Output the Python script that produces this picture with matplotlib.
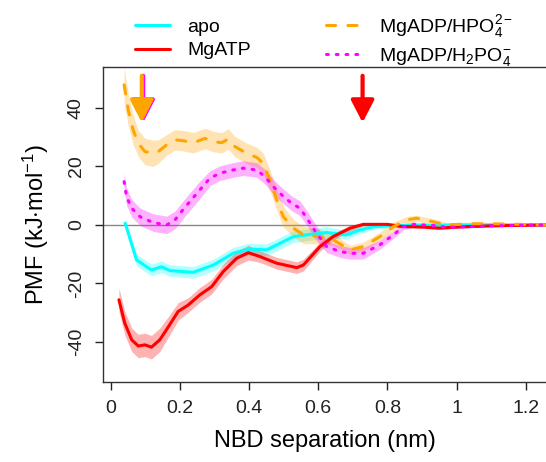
import matplotlib
matplotlib.use("Agg")
import matplotlib.pyplot as plt
import numpy as np

plt.rcParams['font.family'] = ['Liberation Sans', 'DejaVu Sans']
plt.rcParams['mathtext.fontset'] = 'custom'
plt.rcParams['mathtext.rm'] = 'Liberation Sans'
plt.rcParams['mathtext.it'] = 'Liberation Sans:italic'
plt.rcParams['mathtext.bf'] = 'Liberation Sans:bold'
plt.rcParams['axes.unicode_minus'] = False

# apo
apo_x = [0.042, 0.075, 0.118, 0.147, 0.171, 0.239, 0.297, 0.354, 0.398, 0.451, 0.489, 0.528,
         0.566, 0.624, 0.682, 0.72, 0.76, 0.82, 0.9, 1.0, 1.1, 1.26]
apo_y = [0.6, -12, -15.4, -14.3, -15.6, -16.2, -13.7, -9.7, -8.3, -8.5, -6.3, -4,
         -3.4, -2.6, -3.4, -1.7, -0.6, -0.2, -0.2, 0, 0, 0]
apo_e = [1.5, 2, 2, 2, 2, 2, 2, 2, 2, 2, 2, 2,
         2, 2, 1.5, 1.2, 1, 0.5, 0.4, 0.3, 0.3, 0.3]

# MgATP
atp_x = [0.024, 0.041, 0.061, 0.080, 0.099, 0.118, 0.142, 0.167, 0.195, 0.224, 0.258, 0.292,
         0.325, 0.364, 0.398, 0.431, 0.48, 0.538, 0.557, 0.605, 0.643, 0.692, 0.73, 0.8,
         0.84, 0.9, 0.95, 1.0, 1.1, 1.26]
atp_y = [-25.6, -33.6, -39.3, -41.4, -41, -41.8, -39.3, -34.8, -29.6, -27.4, -23.9, -21.1,
         -16, -11.4, -9.5, -10.8, -13.1, -14.6, -13.7, -7.4, -4, -1.1, 0.2, 0.2,
         -0.5, -0.7, -1.1, -0.7, -0.3, 0]
atp_e = [4, 4, 4, 4, 4, 4, 4, 3.5, 3, 2.5, 2.5, 2.5,
         2.5, 2.5, 2.5, 2, 2, 2, 2, 1.5, 1.2, 1, 0.5, 0.5,
         0.5, 0.5, 0.5, 0.4, 0.3, 0.3]

# MgADP/HPO4 2-
hpo_x = [0.039, 0.051, 0.065, 0.080, 0.099, 0.123, 0.138, 0.162, 0.186, 0.21, 0.239, 0.273,
         0.297, 0.321, 0.34, 0.359, 0.393, 0.422, 0.441, 0.46, 0.48, 0.499, 0.528, 0.557,
         0.605, 0.643, 0.692, 0.73, 0.778, 0.817, 0.855, 0.884, 0.932, 0.971, 1.05, 1.1, 1.26]
hpo_y = [47.9, 39.3, 32.5, 27.9, 25.1, 24.5, 25.1, 27.4, 29.1, 28.8, 28.1, 29.6,
         28.5, 28.1, 29.4, 26.8, 24.5, 23.1, 21.1, 15.4, 8.5, 2.8, -1.1, -3.4,
         -4, -5.1, -8.5, -7.4, -4, -0.6, 1.7, 2.3, 1.1, 0, 0.4, 0.4, 0]
hpo_e = [6, 5.5, 5, 4.5, 4.5, 4.5, 4, 3.5, 3.5, 3.5, 3.5, 3.5,
         3.5, 3.5, 3.5, 3.5, 3.5, 3.5, 3.5, 3.5, 3.5, 3.5, 3, 3,
         2.5, 2, 1.5, 1.5, 1.5, 1.5, 1.2, 1, 1, 0.8, 0.6, 0.5, 0.4]

# MgADP/H2PO4 -
h2p_x = [0.039, 0.046, 0.061, 0.085, 0.123, 0.162, 0.186, 0.205, 0.229, 0.258, 0.287, 0.316,
         0.354, 0.383, 0.422, 0.446, 0.47, 0.494, 0.523, 0.547, 0.566, 0.595, 0.624, 0.663,
         0.692, 0.73, 0.778, 0.817, 0.846, 0.875, 0.932, 0.971, 1.05, 1.1, 1.26]
h2p_y = [14.8, 9.7, 5.7, 2.8, 0.8, 0, 1.7, 4.6, 8, 12, 16, 17.7,
         18.8, 19.4, 18.8, 16.5, 13.1, 10.3, 7.4, 5.7, 2.5, -2.8, -7.4, -9.1,
         -9.7, -9.7, -6.8, -3.4, -0.6, 0.2, -0.2, -0.8, -0.5, -0.3, 0]
h2p_e = [3, 3, 3, 3, 3, 3, 3, 3, 3, 3, 2.5, 2.5,
         2.5, 2.5, 2.5, 2.5, 2.5, 2.5, 2.5, 2.5, 2.5, 2.5, 2, 2,
         2, 2, 1.5, 1.2, 1, 0.8, 0.6, 0.5, 0.4, 0.3, 0.3]

series = [
    ("apo", apo_x, apo_y, apo_e, "#00FFFF", "-"),
    ("MgATP", atp_x, atp_y, atp_e, "#FF0000", "-"),
    (r"MgADP/HPO$_4^{2-}$", hpo_x, hpo_y, hpo_e, "#FFA500", (0, (3, 4))),
    (r"MgADP/H$_2$PO$_4^{-}$", h2p_x, h2p_y, h2p_e, "#FF00FF", (0, (0.6, 2.6))),
]

# arrows: x position, colour
arrow_x = [0.094, 0.090, 0.728]
arrow_c = ["#FF00FF", "#FFA500", "#FF0000"]

fig = plt.figure(figsize=(5.46, 4.62), dpi=100)
ax = fig.add_axes([103 / 546, 80 / 462, 1 - 103 / 546, 315 / 462])

ax.axhline(0, color="#888888", lw=1, zorder=1)

for name, x, y, e, c, ls in series:
    x = np.array(x); y = np.array(y); e = np.array(e)
    ax.fill_between(x, y - e, y + e, color=c, alpha=0.3, lw=0, zorder=2)
for name, x, y, e, c, ls in series:
    ax.plot(x, y, color=c, ls=ls, lw=2.2, label=name, zorder=3,
            dash_capstyle="round", solid_capstyle="round")

for xa, ca in zip(arrow_x, arrow_c):
    ax.annotate("", xy=(xa, 35), xytext=(xa, 51),
                arrowprops=dict(arrowstyle="-|>,head_length=1.35,head_width=0.7",
                                mutation_scale=10, lw=3, color=ca, shrinkA=0, shrinkB=0),
                zorder=5)

ax.set_xlim(-0.022, 1.258)
ax.set_ylim(-53.7, 54)
ax.set_xticks([0, 0.2, 0.4, 0.6, 0.8, 1.0, 1.2])
ax.set_xticklabels(["0", "0.2", "0.4", "0.6", "0.8", "1", "1.2"])
ax.set_yticks([-40, -20, 0, 20, 40])
for lab in ax.get_yticklabels():
    lab.set_rotation(90)
    lab.set_va("center")
ax.tick_params(direction="out", length=6, width=1, labelsize=14, pad=7, colors="#222222")
ax.spines["right"].set_visible(False)
for s in ["left", "bottom", "top"]:
    ax.spines[s].set_color("#333333")
    ax.spines[s].set_linewidth(1)

ax.set_xlabel("NBD separation (nm)", fontsize=17, labelpad=9)
ax.set_ylabel(r"PMF (kJ$\cdot$mol$^{-1}$)", fontsize=17, labelpad=12)

fig.legend(loc="upper left", bbox_to_anchor=(117 / 546, 1.01), ncol=2, frameon=False,
           fontsize=14, handlelength=1.85, handletextpad=0.85, columnspacing=3.9,
           labelspacing=0.3)

fig.savefig("out.png", dpi=100)
